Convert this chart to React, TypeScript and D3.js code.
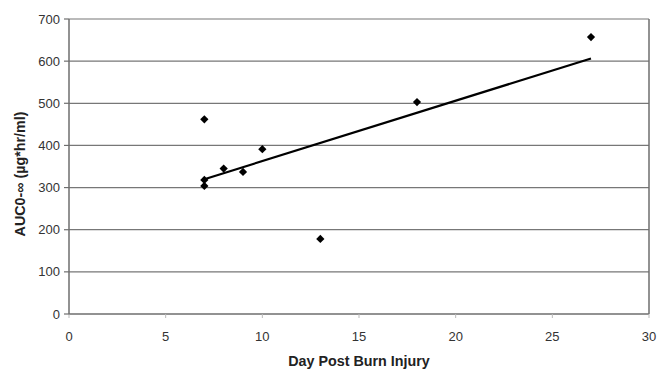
import React from "react";
import * as d3 from "d3";

const days = [7, 7, 7, 8, 9, 10, 13, 18, 27];
const auc = [462, 318, 304, 345, 337, 391, 178, 503, 657];
const xTicks = [0, 5, 10, 15, 20, 25, 30];
const yTicks = [0, 100, 200, 300, 400, 500, 600, 700];

const W = 657, H = 370;
const m = { left: 69, right: 8, top: 19, bottom: 56 };

export default function App() {
  const x = d3.scaleLinear().domain([0, 30]).range([m.left, W - m.right]);
  const y = d3.scaleLinear().domain([0, 700]).range([H - m.bottom, m.top]);

  const n = days.length;
  const mx = d3.mean(days)!;
  const my = d3.mean(auc)!;
  let sxy = 0, sxx = 0;
  for (let i = 0; i < n; i++) {
    sxy += (days[i] - mx) * (auc[i] - my);
    sxx += (days[i] - mx) ** 2;
  }
  const slope = sxy / sxx;
  const icpt = my - slope * mx;
  const x0 = d3.min(days)!, x1 = d3.max(days)!;
  const line = d3.line<number>().x((d) => x(d)).y((d) => y(icpt + slope * d));
  const diamond = d3.symbol().type(d3.symbolSquare).size(34)();

  const font = "'Liberation Sans', Arial, sans-serif";
  return (
    <svg width={W} height={H} style={{ position: "absolute", left: 0, top: 0, background: "#fff" }} fontFamily={font}>
      {yTicks.map((t) => (
        <g key={t}>
          <line x1={x(0)} x2={x(30)} y1={y(t)} y2={y(t)} stroke={t === 0 ? "#6e6e6e" : "#777"} strokeWidth={t === 0 ? 1.5 : 1.2} />
          <line x1={x(0) - 5} x2={x(0)} y1={y(t)} y2={y(t)} stroke="#6e6e6e" strokeWidth={1.2} />
          <text x={x(0) - 9} y={y(t)} dy="0.35em" textAnchor="end" fontSize={13} fill="#333">{t}</text>
        </g>
      ))}
      <line x1={x(0)} x2={x(0)} y1={y(0) + 1} y2={y(700)} stroke="#6e6e6e" strokeWidth={1.5} />
      <line x1={x(30)} x2={x(30)} y1={y(0)} y2={y(700)} stroke="#6e6e6e" strokeWidth={1.5} />
      {xTicks.map((t) => (
        <g key={t}>
          <line x1={x(t)} x2={x(t)} y1={y(0)} y2={y(0) + 4} stroke="#bbb" strokeWidth={1} />
          <text x={x(t)} y={y(0) + 27} textAnchor="middle" fontSize={13} fill="#333">{t}</text>
        </g>
      ))}
      <path d={line([x0, x1]) || ""} stroke="#000" strokeWidth={2.2} fill="none" />
      {days.map((d, i) => (
        <path key={i} d={diamond || ""} transform={`translate(${x(d)},${y(auc[i])}) rotate(45)`} fill="#000" />
      ))}
      <text x={359} y={366} textAnchor="middle" fontSize={14.3} fontWeight="bold" fill="#222">Day Post Burn Injury</text>
      <text transform={`translate(25,174) rotate(-90)`} textAnchor="middle" fontSize={14.3} fontWeight="bold" fill="#222">AUC0-∞ (µg*hr/ml)</text>
    </svg>
  );
}
